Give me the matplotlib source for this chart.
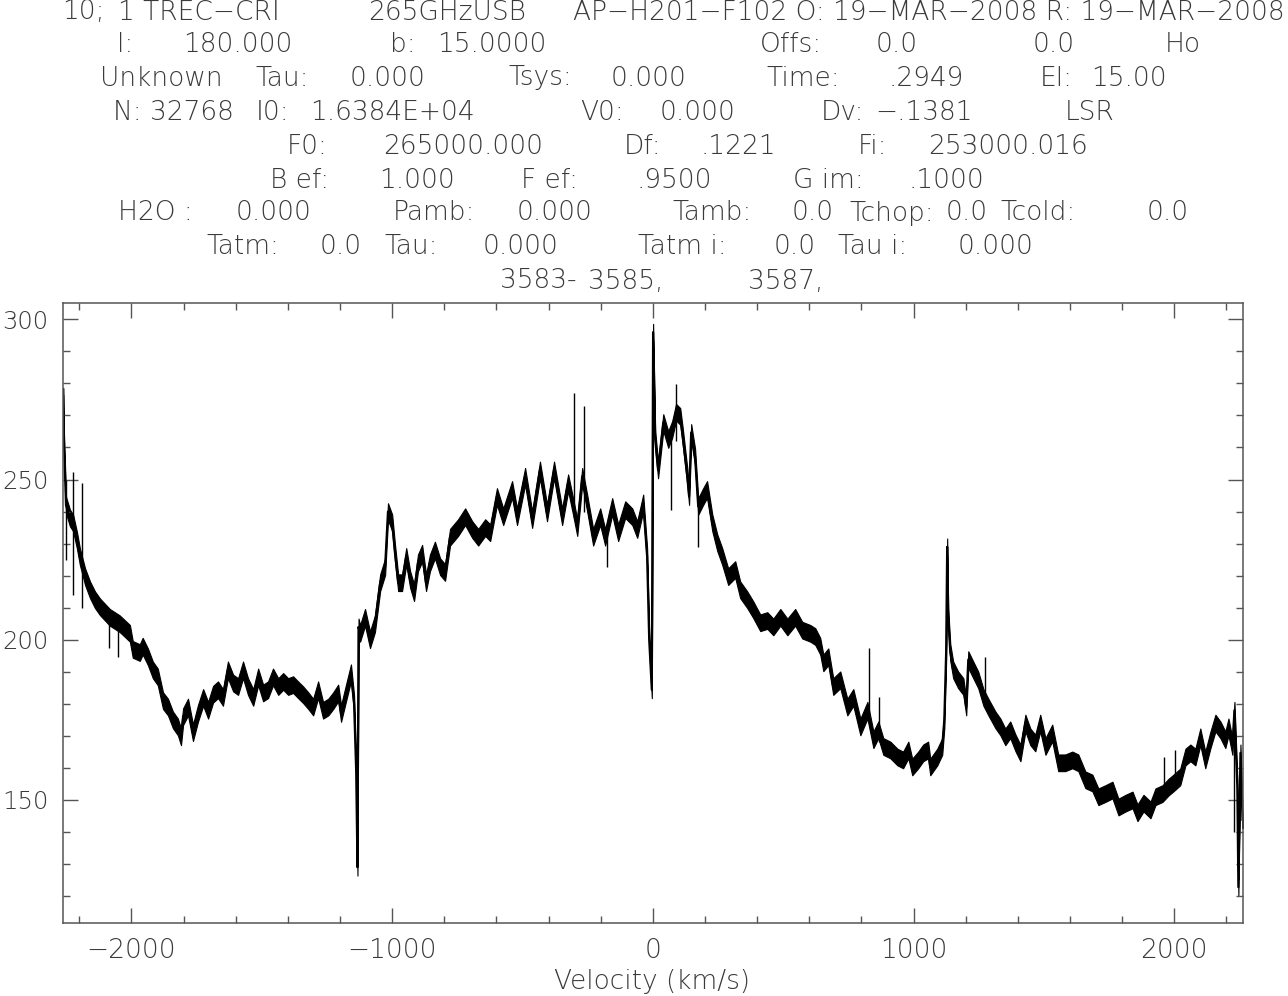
import matplotlib
matplotlib.use('Agg')
import matplotlib.pyplot as plt
from matplotlib.ticker import MultipleLocator
from matplotlib import font_manager as fm
import numpy as np

# ---------------- data ----------------
velocity = [-2262, -2259, -2251, -2236, -2224, -2209, -2198, -2178, -2159, -2140,
            -2121, -2083, -2045, -2006, -1995, -1968, -1957, -1937, -1918, -1899,
            -1879, -1860, -1841, -1822, -1810, -1802, -1783, -1764, -1745, -1725,
            -1706, -1687, -1668, -1649, -1630, -1610, -1591, -1572, -1553, -1533,
            -1514, -1495, -1476, -1457, -1437, -1418, -1399, -1380, -1361, -1341,
            -1322, -1303, -1284, -1265, -1245, -1226, -1207, -1196, -1177, -1158,
            -1146, -1138, -1133, -1129, -1123, -1104, -1085, -1066, -1046, -1027,
            -1016, -1000, -989, -977, -962, -946, -931, -916, -901, -885,
            -870, -855, -836, -816, -797, -778, -747, -720, -693, -670,
            -643, -624, -598, -574, -540, -521, -490, -463, -433, -406,
            -379, -348, -325, -306, -290, -271, -252, -229, -202, -183,
            -156, -133, -106, -79, -60, -37, -22, -14, -4, 1,
            9, 20, 40, 59, 74, 89, 105, 116, 132, 139,
            147, 162, 174, 193, 208, 228, 247, 266, 289, 316,
            335, 362, 385, 412, 439, 462, 489, 516, 546, 573,
            604, 623, 642, 654, 673, 692, 719, 746, 769, 796,
            823, 846, 865, 884, 911, 938, 960, 980, 995, 1018,
            1037, 1056, 1064, 1091, 1110, 1118, 1125, 1129, 1133, 1141,
            1152, 1171, 1191, 1202, 1210, 1229, 1248, 1268, 1287, 1314,
            1333, 1352, 1371, 1391, 1410, 1429, 1448, 1467, 1486, 1506,
            1532, 1555, 1582, 1609, 1632, 1659, 1686, 1709, 1736, 1763,
            1786, 1813, 1840, 1859, 1882, 1909, 1928, 1955, 1978, 1997,
            2023, 2043, 2062, 2081, 2100, 2119, 2139, 2158, 2177, 2196,
            2208, 2223, 2231, 2242, 2246, 2254, 2262]
temperature = [276, 262, 242, 238, 236.5, 231, 226, 219.7, 215.6, 212.5,
               210.3, 207, 205, 202, 197, 196, 198, 194.7, 190.6, 188.4,
               181, 179, 175, 172.8, 169.7, 176, 179, 171, 177, 182,
               178, 183, 184.4, 182, 190.6, 186.5, 185.4, 190.6, 185.4, 182,
               188.4, 183.4, 184.4, 188.4, 185.4, 187, 185.4, 186, 184.4, 182.8,
               181, 179, 184.4, 178, 179, 181, 183.4, 177, 183.4, 189.7,
               180, 159, 129, 204, 202, 207, 200, 205, 217.8, 222.8,
               240, 236.5, 227, 217.8, 217.8, 226, 218.8, 214.7, 224, 227,
               217.8, 224, 228, 222.8, 221, 232, 235, 238.4, 234.4, 232,
               235, 233.4, 244.7, 238.4, 246.9, 238.4, 251, 237.5, 253, 239.6,
               253, 238.4, 249, 241.6, 235, 251, 242.7, 232, 238.4, 232,
               241.6, 233.4, 240.6, 238.4, 234.4, 242.7, 226, 200, 184.4, 296,
               262.5, 253, 267.8, 262.5, 265.6, 271, 269.7, 262.5, 251, 244.7,
               264.7, 257, 241.6, 244.7, 246.9, 236.5, 230.3, 226, 219.7, 221.9,
               215.6, 212.5, 209.4, 205.3, 206, 204, 207, 204, 207, 203,
               202, 201, 198, 192.8, 194.7, 185.4, 187.5, 179, 182, 172.8,
               178, 168.8, 171.9, 166.7, 165.6, 163.4, 162.5, 165.6, 160.3, 162.5,
               164.7, 165.6, 160.3, 163.4, 166.7, 175, 196, 229, 207, 196,
               190.6, 187.5, 185.4, 179, 193.8, 190.6, 187.5, 182, 179, 175,
               172.8, 169.7, 171.9, 167.8, 164.7, 174, 169.7, 167.8, 174, 166.7,
               170.9, 161.6, 161.6, 162.5, 161.6, 156.3, 155.3, 151, 152, 153.1,
               147.8, 149, 150, 146, 149, 146.9, 151, 152, 154, 155.3,
               157.2, 163.4, 164.7, 163.4, 169.7, 162.5, 168.8, 174, 171.9, 168.8,
               172.8, 166.7, 178, 154, 122.8, 164.7, 143.8]

# half-width of the channel-noise band seen around the baseline (K)
noise_half_width = 2.6

# narrow single-channel spikes: velocity, low and high value
spike_v = [-2251, -2224, -2190, -2086, -2051, -303, -264, -175, 69, 89, 174, 830, 868, 1275, 1959, 2001, 2231]
spike_lo = [225, 214, 210, 197.5, 194.7, 238, 240, 222.8, 240.6, 262, 229, 175, 168, 180, 150, 153, 140]
spike_hi = [250, 252.5, 249, 206, 203, 277, 272.8, 235, 265, 279.7, 244, 197.5, 182, 194.7, 163.4, 165.6, 178]

x_range = [-2262.6, 2262.6]
y_range = [111.7, 305.0]
x_label = 'Velocity (km/s)'

M = '\u2212'
header_texts = [
    ['10;', '1 TREC' + M + 'CRI', '265GHzUSB',
     'AP' + M + 'H201' + M + 'F102 O: 19' + M + 'MAR' + M + '2008 R: 19' + M + 'MAR' + M + '2008'],
    ['l:', '180.000', 'b:', '15.0000', 'Offs:', '0.0', '0.0', 'Ho'],
    ['Unknown', 'Tau:', '0.000', 'Tsys:', '0.000', 'Time:', '.2949', 'El:', '15.00'],
    ['N: 32768', 'I0:', '1.6384E+04', 'V0:', '0.000', 'Dv:', M + '.1381', 'LSR'],
    ['F0:', '265000.000', 'Df:', '.1221', 'Fi:', '253000.016'],
    ['B ef:', '1.000', 'F ef:', '.9500', 'G im:', '.1000'],
    ['H2O :', '0.000', 'Pamb:', '0.000', 'Tamb:', '0.0', 'Tchop:', '0.0', 'Tcold:', '0.0'],
    ['Tatm:', '0.0', 'Tau:', '0.000', 'Tatm i:', '0.0', 'Tau i:', '0.000'],
    ['3583-', '3585,', '3587,'],
]

# ---------------- layout ----------------
W, H = 1288, 996
header_x = [
    [62, 118, 368, 1285],
    [117, 183, 390, 437, 760, 876, 1033, 1165],
    [100, 255, 350, 508, 611, 766, 889, 1040, 1091],
    [113, 256, 310, 580, 660, 821, 875, 1065],
    [287, 383, 624, 700, 858, 928],
    [270, 379, 521, 636, 793, 908],
    [118, 236, 393, 517, 672, 792, 849, 946, 1000, 1147],
    [206, 320, 384, 483, 638, 774, 838, 958],
    [500, 588, 748],
]
header_ha = [['left', 'left', 'left', 'right']]
header_y = [12, 44, 78, 112, 146, 180, 213, 247, 281]

weight = 'normal'
try:
    p = fm.findfont(fm.FontProperties(family='DejaVu Sans', weight=200), fallback_to_default=False)
    if 'ExtraLight' in p:
        weight = 200
except Exception:
    pass

txt_color = '#3a3a3a'
axis_color = '#555555'
fs = 19

fig = plt.figure(figsize=(W / 100, H / 100), dpi=100)
fig.patch.set_facecolor('white')

left, right, top, bottom = 63, 1242.7, 303.3, 922.7
ax = fig.add_axes([left / W, 1 - bottom / H, (right - left) / W, (bottom - top) / H])

v = np.asarray(velocity, dtype=float)
t = np.asarray(temperature, dtype=float)
ax.fill_between(v, t - noise_half_width, t + noise_half_width, color='black', lw=0.8,
                edgecolor='black')
ax.plot(v, t, color='black', lw=1.6)
ax.vlines(spike_v, spike_lo, spike_hi, color='black', lw=1.0)

ax.set_xlim(*x_range)
ax.set_ylim(*y_range)
ax.xaxis.set_major_locator(MultipleLocator(1000))
ax.xaxis.set_minor_locator(MultipleLocator(200))
ax.yaxis.set_major_locator(MultipleLocator(50))
ax.yaxis.set_minor_locator(MultipleLocator(10))
ax.tick_params(which='both', direction='in', top=True, right=True,
               labeltop=False, labelright=False, color=axis_color, width=1.0,
               labelcolor=txt_color)
ax.tick_params(which='major', length=10.8)
ax.tick_params(which='minor', length=5.2)
ax.tick_params(axis='x', which='major', pad=11, labelsize=fs)
ax.tick_params(axis='y', which='major', pad=10.5, labelsize=17.5)
for lab in ax.get_xticklabels() + ax.get_yticklabels():
    lab.set_fontweight(weight)
for s in ax.spines.values():
    s.set_color(axis_color)
    s.set_linewidth(1.1)

for li, (texts, xs, y) in enumerate(zip(header_texts, header_x, header_y)):
    for k, (tx, x) in enumerate(zip(texts, xs)):
        ha = header_ha[li][k] if li < len(header_ha) else 'left'
        fig.text(x / W, 1 - y / H, tx, ha=ha, va='center', fontsize=fs,
                 color=txt_color, fontweight=weight)

fig.text(652 / W, 1 - 981 / H, x_label, ha='center', va='center', fontsize=fs,
         color=txt_color, fontweight=weight)

fig.savefig('out.png', dpi=100, facecolor='white')
